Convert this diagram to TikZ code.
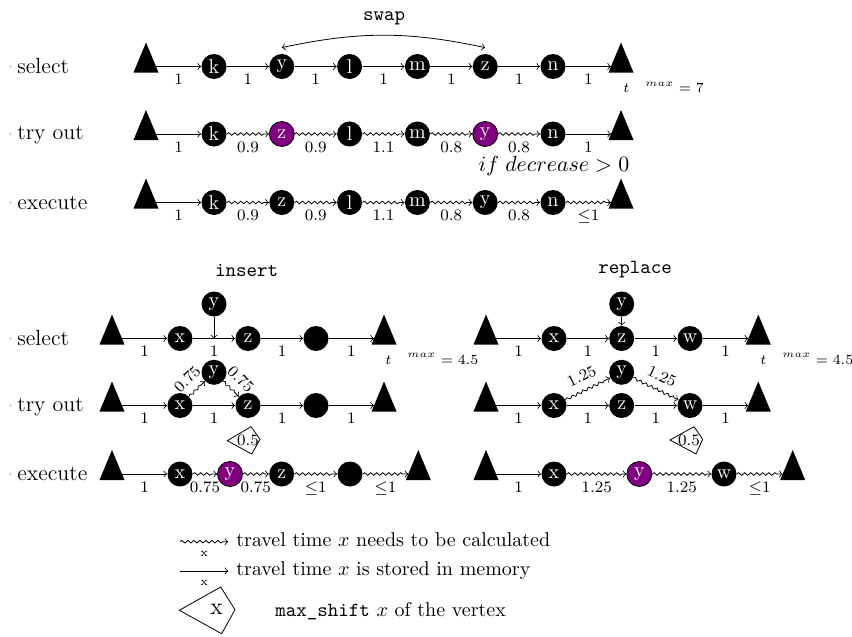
\documentclass[tikz,border=0pt]{standalone}
\usetikzlibrary{decorations.pathmorphing,calc}
\definecolor{mypurple}{RGB}{128,0,128}
\newcommand{\depot}[3]{%
  \fill (#2-12.5,#3+6) -- (#2,#3-24) -- (#2+12.5,#3+6) -- cycle;
  \coordinate (#1i) at (#2-10,#3);
  \coordinate (#1o) at (#2+10,#3);}
\newcommand{\rowdot}[1]{\fill[black!40] (10.5,#1) circle (0.45pt);}
\begin{document}
\begin{tikzpicture}[x=0.5pt,y=-0.5pt,
  vx/.style={circle,fill=black,text=white,inner sep=0pt,minimum size=12.5pt,font=\fontsize{10}{12}\selectfont},
  pv/.style={vx,fill=mypurple,draw=black},
  st/.style={->},
  wv/.style={->,decorate,decoration={snake,amplitude=0.65pt,segment length=3pt,post length=2pt}},
  lb/.style={font=\fontsize{8}{9}\selectfont,inner sep=1pt,below=2.5pt,midway},
  slb/.style={font=\fontsize{8}{9}\selectfont,inner sep=1pt,sloped,above=3pt,midway},
  rowlbl/.style={anchor=base west,font=\fontsize{11}{13}\selectfont,inner sep=0pt},
  ttl/.style={anchor=base,font=\ttfamily,inner sep=0pt},
  tmax/.style={anchor=base west,font=\fontsize{7.5}{9}\selectfont,inner sep=0pt},
  txt/.style={anchor=base west,inner sep=0pt},
  msh/.style={font=\fontsize{8}{9}\selectfont,inner sep=0pt},
]
\useasboundingbox (0,0) rectangle (852,637);

% ================= SWAP =================
\node[ttl] (tswap) at (384,20) {swap};
\rowdot{66.5}\rowdot{134}\rowdot{202.5}
\node[rowlbl] (ls1) at (17,73) {select};
\node[rowlbl] (ls2) at (17,139.5) {try out};
\node[rowlbl] (ls3) at (17,209) {execute};

% select
\depot{sA1}{146}{66.5}
\node[vx] (sk1) at (214,66.5) {k};
\node[vx] (sy1) at (281.8,66.5) {y};
\node[vx] (sl1) at (349.6,66.5) {l};
\node[vx] (sm1) at (417.4,66.5) {m};
\node[vx] (sz1) at (485.2,66.5) {z};
\node[vx] (sn1) at (553,66.5) {n};
\depot{sB1}{621}{66.5}
\draw[st] (sA1o) -- node[lb]{1} (sk1);
\draw[st] (sk1) -- node[lb]{1} (sy1);
\draw[st] (sy1) -- node[lb]{1} (sl1);
\draw[st] (sl1) -- node[lb]{1} (sm1);
\draw[st] (sm1) -- node[lb]{1} (sz1);
\draw[st] (sz1) -- node[lb]{1} (sn1);
\draw[st] (sn1) -- node[lb]{1} (sB1i);
\draw[<->] ([yshift=3pt]sy1.north) to[bend left=12] ([yshift=3pt]sz1.north);
\node[tmax] (stm) at (623,92.7) {$t^{\hspace{8pt}max} = 7$};

% try out
\depot{sA2}{146}{134}
\node[vx] (sk2) at (214,134) {k};
\node[pv] (sz2) at (281.8,134) {z};
\node[vx] (sl2) at (349.6,134) {l};
\node[vx] (sm2) at (417.4,134) {m};
\node[pv] (sy2) at (485.2,134) {y};
\node[vx] (sn2) at (553,134) {n};
\depot{sB2}{621}{134}
\draw[st] (sA2o) -- node[lb]{1} (sk2);
\draw[wv] (sk2) -- node[lb]{0.9} (sz2);
\draw[wv] (sz2) -- node[lb]{0.9} (sl2);
\draw[wv] (sl2) -- node[lb]{1.1} (sm2);
\draw[wv] (sm2) -- node[lb]{0.8} (sy2);
\draw[wv] (sy2) -- node[lb]{0.8} (sn2);
\draw[st] (sn2) -- node[lb]{1} (sB2i);
\node[anchor=base,font=\fontsize{11}{13}\selectfont,inner sep=0pt] (cond) at (554,171.5) {$if\; decrease > 0$};

% execute
\depot{sA3}{146}{202.5}
\node[vx] (sk3) at (214,202.5) {k};
\node[vx] (sz3) at (281.8,202.5) {z};
\node[vx] (sl3) at (349.6,202.5) {l};
\node[vx] (sm3) at (417.4,202.5) {m};
\node[vx] (sy3) at (485.2,202.5) {y};
\node[vx] (sn3) at (553,202.5) {n};
\depot{sB3}{621}{202.5}
\draw[st] (sA3o) -- node[lb]{1} (sk3);
\draw[wv] (sk3) -- node[lb]{0.9} (sz3);
\draw[wv] (sz3) -- node[lb]{0.9} (sl3);
\draw[wv] (sl3) -- node[lb]{1.1} (sm3);
\draw[wv] (sm3) -- node[lb]{0.8} (sy3);
\draw[wv] (sy3) -- node[lb]{0.8} (sn3);
\draw[wv] (sn3) -- node[lb]{$\leq$1} (sB3i);

% ================= INSERT =================
\node[ttl] (tins) at (246.7,276) {insert};
\rowdot{338.5}\rowdot{405.5}\rowdot{474}
\node[rowlbl] (li1) at (17,345) {select};
\node[rowlbl] (li2) at (17,411) {try out};
\node[rowlbl] (li3) at (17,480.5) {execute};

% select
\depot{iA1}{112}{338.5}
\node[vx] (ix1) at (180,338.5) {x};
\node[vx] (iz1) at (248,338.5) {z};
\node[vx] (ie1) at (316,338.5) {};
\depot{iB1}{384}{338.5}
\node[vx] (iy1) at (214,304) {y};
\draw[st] (iA1o) -- node[lb]{1} (ix1);
\draw[st] (ix1) -- node[lb]{1} (iz1);
\draw[st] (iz1) -- node[lb]{1} (ie1);
\draw[st] (ie1) -- node[lb]{1} (iB1i);
\coordinate (im1) at ($(ix1)!0.5!(iz1)$);
\draw[st] (iy1) -- (im1);
\node[tmax] (itm) at (385,364) {$t^{\hspace{8pt}max} = 4.5$};

% try out
\depot{iA2}{112}{405.5}
\node[vx] (ix2) at (180,405.5) {x};
\node[vx] (iz2) at (248,405.5) {z};
\node[vx] (ie2) at (316,405.5) {};
\depot{iB2}{384}{405.5}
\node[vx] (iy2) at (214,372.3) {y};
\draw[st] (iA2o) -- node[lb]{1} (ix2);
\draw[st] (ix2) -- node[lb]{1} (iz2);
\draw[st] (iz2) -- node[lb]{1} (ie2);
\draw[st] (ie2) -- node[lb]{1} (iB2i);
\draw[wv] (ix2) -- node[slb]{0.75} (iy2);
\draw[wv] (iy2) -- node[slb]{0.75} (iz2);
\node[msh] (ims) at (248,440) {0.5};
\draw ($(ims)+(-20.7,0.7)$) -- ($(ims)+(3,-13.3)$) -- ($(ims)+(12,-0.7)$) -- ($(ims)+(3.7,14)$) -- cycle;

% execute
\depot{iA3}{112}{474}
\node[vx] (ix3) at (180,474) {x};
\node[pv] (iy3) at (230,474) {y};
\node[vx] (iz3) at (281.7,474) {z};
\node[vx] (ie3) at (350,474) {};
\depot{iB3}{418.3}{474}
\draw[st] (iA3o) -- node[lb]{1} (ix3);
\draw[wv] (ix3) -- node[lb]{0.75} (iy3);
\draw[wv] (iy3) -- node[lb]{0.75} (iz3);
\draw[wv] (iz3) -- node[lb]{$\leq$1} (ie3);
\draw[wv] (ie3) -- node[lb]{$\leq$1} (iB3i);

% ================= REPLACE =================
\node[ttl] (trep) at (635,273.5) {replace};

% select
\depot{rA1}{486}{338.5}
\node[vx] (rx1) at (554,338.5) {x};
\node[vx] (rz1) at (621.7,338.5) {z};
\node[vx] (rw1) at (690,338.5) {w};
\depot{rB1}{758.3}{338.5}
\node[vx] (ry1) at (621.7,304) {y};
\draw[st] (rA1o) -- node[lb]{1} (rx1);
\draw[st] (rx1) -- node[lb]{1} (rz1);
\draw[st] (rz1) -- node[lb]{1} (rw1);
\draw[st] (rw1) -- node[lb]{1} (rB1i);
\draw[st] (ry1) -- (rz1);
\node[tmax] (rtm) at (760,364) {$t^{\hspace{8pt}max} = 4.5$};

% try out
\depot{rA2}{486}{405.5}
\node[vx] (rx2) at (554,405.5) {x};
\node[vx] (rz2) at (621.7,405.5) {z};
\node[vx] (rw2) at (690,405.5) {w};
\depot{rB2}{758.3}{405.5}
\node[vx] (ry2) at (621.7,372.3) {y};
\draw[st] (rA2o) -- node[lb]{1} (rx2);
\draw[st] (rx2) -- node[lb]{1} (rz2);
\draw[st] (rz2) -- node[lb]{1} (rw2);
\draw[st] (rw2) -- node[lb]{1} (rB2i);
\draw[wv] (rx2) -- node[slb]{1.25} (ry2);
\draw[wv] (ry2) -- node[slb]{1.25} (rw2);
\node[msh] (rms) at (689,440) {0.5};
\draw ($(rms)+(-19,0)$) -- ($(rms)+(5,-13.3)$) -- ($(rms)+(13.7,-0.7)$) -- ($(rms)+(7,14)$) -- cycle;

% execute
\depot{rA3}{486}{474}
\node[vx] (rx3) at (554,474) {x};
\node[pv] (ry3) at (639.3,474) {y};
\node[vx] (rw3) at (724,474) {w};
\depot{rB3}{792.7}{474}
\draw[st] (rA3o) -- node[lb]{1} (rx3);
\draw[wv] (rx3) -- node[lb]{1.25} (ry3);
\draw[wv] (ry3) -- node[lb]{1.25} (rw3);
\draw[wv] (rw3) -- node[lb]{$\leq$1} (rB3i);

% ================= LEGEND =================
\coordinate (lwa) at (180,541.7);
\coordinate (lwb) at (228.3,541.7);
\draw[wv] (lwa) -- node[midway,below=3.5pt,inner sep=1pt,font=\fontsize{6}{7}\selectfont]{x} (lwb);
\node[txt] (lt1) at (236,546.5) {travel time $x$ needs to be calculated};
\coordinate (lsa) at (180,571);
\coordinate (lsb) at (228.3,571);
\draw[st] (lsa) -- node[midway,below=3.5pt,inner sep=1pt,font=\fontsize{6}{7}\selectfont]{x} (lsb);
\node[txt] (lt2) at (236,575) {travel time $x$ is stored in memory};
\node[inner sep=0pt,font=\large] (lms) at (216.7,609) {x};
\draw (179.3,610.3) -- (220.7,587) -- (235,609.7) -- (221.7,633.7) -- cycle;
\node[txt] (lt3) at (275,616.5) {\texttt{max\_shift} $x$ of the vertex};
\end{tikzpicture}
\end{document}
